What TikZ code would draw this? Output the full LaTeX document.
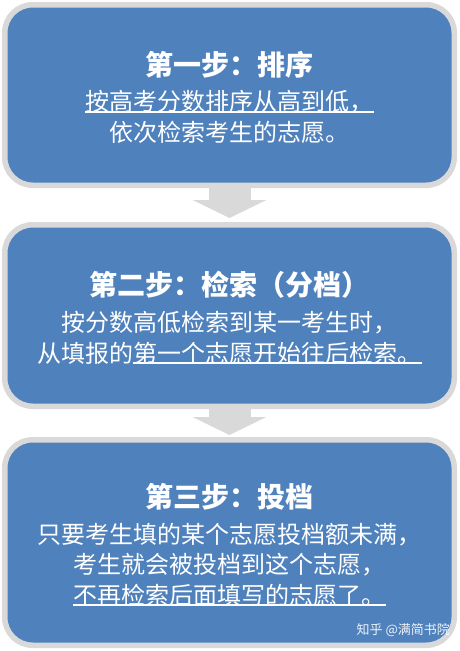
\documentclass[tikz,border=0pt]{standalone}
\usepackage{fontspec}
\newfontfamily\cjk{Noto Sans CJK SC}
\usetikzlibrary{arrows.meta}
\definecolor{boxblue}{HTML}{4F81BD}
\definecolor{rimgray}{HTML}{D9D9D9}
\tikzset{
  stepbox/.style={draw=rimgray, line width=5.5pt, fill=boxblue, rounded corners=28pt,
    minimum width=449.5pt, inner sep=0pt},
  titletext/.style={text=white, font=\cjk\bfseries\fontsize{28}{31}\selectfont, inner sep=0pt},
  bodytext/.style={text=white, font=\cjk\fontsize{24}{28}\selectfont, inner sep=0pt},
  uline/.style={draw=white, line width=1.4pt},
  flowarrow/.style={draw=rimgray, line width=42pt, -{Triangle[width=73pt,length=18pt]}},
  marktext/.style={text=white, opacity=0.9, font=\cjk\fontsize{13}{15}\selectfont, inner sep=0pt},
}
\begin{document}
\begin{tikzpicture}[x=1pt,y=-1pt]
\useasboundingbox[fill=white] (0,0) rectangle (459,651);
% boxes
\node[stepbox, minimum height=180.5pt] (b1) at (229.5,95) {};
\node[stepbox, minimum height=181.5pt] (b2) at (229.5,315.5) {};
\node[stepbox, minimum height=205.5pt] (b3) at (229.5,542.5) {};
% arrows
\draw[flowarrow, shorten >=4pt] (b1.south) -- (b2.north);
\draw[flowarrow, shorten >=2pt] (b2.south) -- (b3.north);
% box 1 text
\node[titletext] (t1) at (229.5,65) {第一步：排序};
\node[bodytext] (l1a) at (229.5,102) {按高考分数排序从高到低，};
\node[bodytext] (l1b) at (229.5,132) {依次检索考生的志愿。};
\draw[uline] ([yshift=1.5pt]l1a.south west) -- ([yshift=1.5pt]l1a.south east);
% box 2 text
\node[titletext] (t2) at (229.5,285) {第二步：检索（分档）};
\node[bodytext] (l2a) at (229.5,323) {按分数高低检索到某一考生时，};
\node[bodytext] (l2b) at (229.5,353) {从填报的第一个志愿开始往后检索。};
\draw[uline] ([xshift=96pt,yshift=1.5pt]l2b.south west) -- ([yshift=1.5pt]l2b.south east);
% box 3 text
\node[titletext] (t3) at (229.5,497) {第三步：投档};
\node[bodytext] (l3a) at (229.5,535) {只要考生填的某个志愿投档额未满，};
\node[bodytext] (l3b) at (229.5,565) {考生就会被投档到这个志愿，};
\node[bodytext] (l3c) at (229.5,595) {不再检索后面填写的志愿了。};
\draw[uline] ([yshift=1.5pt]l3c.south west) -- ([yshift=1.5pt]l3c.south east);
% watermark
\node[marktext, anchor=east] (wm) at (450,630) {知乎 @满简书院};
\end{tikzpicture}
\end{document}
